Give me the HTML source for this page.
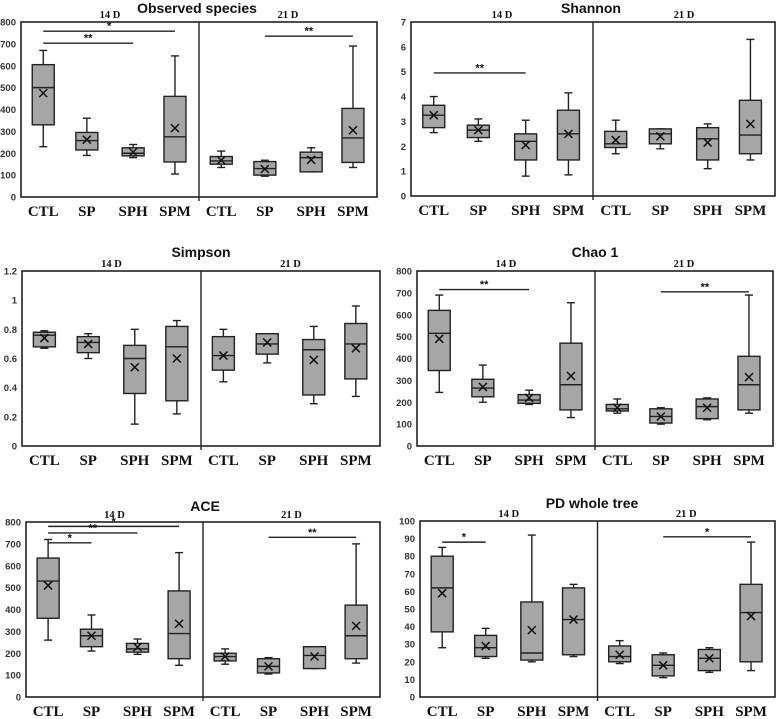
<!DOCTYPE html>
<html><head><meta charset="utf-8"><style>
body{margin:0;background:#fff}
svg{display:block}
.yt{font:bold 9.5px "Liberation Sans",sans-serif;fill:#333}
.xl{font:bold 15px "Liberation Serif",serif;fill:#111}
.tt{font:bold 14px "Liberation Sans",sans-serif;fill:#111}
.dl{font:bold 10.5px "Liberation Serif",serif;fill:#111}
.sg{font:bold 11px "Liberation Sans",sans-serif;fill:#111}
</style></head><body>
<svg id="fig" width="778" height="719" viewBox="0 0 778 719"></svg>
<script>
const groups=["CTL","SP","SPH","SPM"];
const days=["14 D","21 D"];
// each box: [min,q1,median,q3,max,mean]; 14D then 21D
const observed=[[230,330,500,605,670,475],[190,215,258,295,360,262],[180,188,200,225,240,205],[105,160,275,460,645,315],
 [135,150,165,185,210,168],[95,100,130,162,168,128],[115,115,180,205,225,170],[135,158,270,405,690,305]];
const shannon=[[2.55,2.75,3.25,3.65,4.0,3.25],[2.2,2.35,2.65,2.85,3.1,2.65],[0.8,1.45,2.2,2.5,3.05,2.05],[0.85,1.45,2.5,3.45,4.15,2.5],
 [1.7,1.95,2.1,2.6,3.05,2.25],[1.9,2.1,2.5,2.7,2.7,2.4],[1.1,1.45,2.3,2.75,2.9,2.15],[1.45,1.7,2.45,3.85,6.3,2.9]];
const simpson=[[0.67,0.68,0.76,0.78,0.79,0.74],[0.6,0.64,0.71,0.75,0.77,0.7],[0.15,0.36,0.6,0.69,0.8,0.54],[0.22,0.31,0.68,0.82,0.86,0.6],
 [0.44,0.52,0.62,0.75,0.8,0.62],[0.57,0.63,0.7,0.77,0.77,0.71],[0.29,0.35,0.66,0.73,0.82,0.59],[0.34,0.46,0.7,0.84,0.96,0.67]];
const chao=[[245,345,515,620,690,490],[200,225,265,305,370,270],[190,195,210,235,255,220],[130,165,280,470,655,320],
 [150,160,170,190,215,175],[100,105,135,170,175,135],[120,125,180,215,220,175],[150,165,280,410,690,315]];
const ace=[[260,360,530,635,720,510],[210,230,280,310,375,280],[195,205,220,245,265,228],[145,175,290,485,660,335],
 [150,165,185,200,220,185],[105,110,140,175,180,140],[130,130,190,230,230,185],[155,175,280,420,700,325]];
const pd=[[28,37,62,80,85,59],[22,23,28,35,39,29],[20,21,25,54,92,38],[23,24,44,62,64,44],
 [19,20,23,29,32,24],[11,12,18,24,25,18],[14,15,22,27,28,22],[15,20,48,64,88,46]];
// significance: [fromIndex,toIndex,value,label]
const obsSig=[[0,3,758,"*"],[0,2,703,"**"],[5,7,735,"**"]];
const shaSig=[[0,2,4.95,"**"]];
const chaoSig=[[0,2,715,"**"],[5,7,705,"**"]];
const aceSig=[[0,3,780,"*"],[0,2,750,"**"],[0,1,705,"*"],[5,7,730,"**"]];
const pdSig=[[0,1,88,"*"],[5,7,91,"*"]];
const obsTicks=[0,100,200,300,400,500,600,700,800];
const shaTicks=[0,1,2,3,4,5,6,7];
const simTicks=[0,0.2,0.4,0.6,0.8,1,1.2];
const pdTicks=[0,10,20,30,40,50,60,70,80,90,100];

const NS="http://www.w3.org/2000/svg";
const svg=document.getElementById("fig");
function mk(tag,attrs,parent,txt){const e=document.createElementNS(NS,tag);for(const k in attrs)e.setAttribute(k,attrs[k]);if(txt!==undefined)e.textContent=txt;(parent||svg).appendChild(e);return e;}

function panel(p){
  const g=mk("g",{});
  
  
  const ymax=p.ticks[p.ticks.length-1];
  const y=v=>p.b-(v/ymax)*(p.b-p.t);
  const mid=(p.l+p.r)/2;
  const hw=(mid-p.l);
  const fr=[0.125,0.37,0.63,0.865];
  const cx=i=>{const h=Math.floor(i/4);const base=h?mid:p.l;const w=h?(p.r-mid):hw;return base+fr[i%4]*w;};
  const frame=mk("rect",{x:p.l,y:p.t,width:p.r-p.l,height:p.b-p.t,fill:"none",stroke:"#222","stroke-width":1.6},g);
  
  mk("line",{x1:mid,y1:p.t,x2:mid,y2:p.b+4,stroke:"#222","stroke-width":1.4},g);
  const tt=mk("text",{x:p.tx,y:p.ty,"text-anchor":"middle",class:"tt"},g,p.title);
  
  days.forEach((d,h)=>{const base=h?mid:p.l;const w=h?(p.r-mid):hw;
    const dl=mk("text",{x:base+w/2,y:p.t-4,"text-anchor":"middle",class:"dl"},g,d);
    });
  p.ticks.forEach(t=>{const e=mk("text",{x:p.l-5,y:y(t)+3.5,"text-anchor":"end",class:"yt"},g,String(t));
    });
  p.data.forEach((d,i)=>{
    const x=cx(i),bw=11;
    const bg=mk("g",{},g);
    
    
    const s={stroke:"#222","stroke-width":1.4};
    mk("line",Object.assign({x1:x,y1:y(d[0]),x2:x,y2:y(d[1])},s),bg);
    mk("line",Object.assign({x1:x,y1:y(d[3]),x2:x,y2:y(d[4])},s),bg);
    mk("line",Object.assign({x1:x-4,y1:y(d[0]),x2:x+4,y2:y(d[0])},s),bg);
    mk("line",Object.assign({x1:x-4,y1:y(d[4]),x2:x+4,y2:y(d[4])},s),bg);
    mk("rect",Object.assign({x:x-bw,y:y(d[3]),width:2*bw,height:Math.max(1,y(d[1])-y(d[3])),fill:"#a6a6a6"},s),bg);
    mk("line",Object.assign({x1:x-bw,y1:y(d[2]),x2:x+bw,y2:y(d[2])},s),bg);
    const m=y(d[5]);
    mk("path",{d:`M${x-4},${m-4}L${x+4},${m+4}M${x-4},${m+4}L${x+4},${m-4}`,stroke:"#111","stroke-width":1.5,fill:"none"},bg);
    const xl=mk("text",{x:x,y:p.b+19,"text-anchor":"middle",class:"xl"},g,groups[i%4]);
    
  });
  (p.sig||[]).forEach(s=>{
    const yy=y(s[2]);
    const sl=mk("line",{x1:cx(s[0]),y1:yy,x2:cx(s[1]),y2:yy,stroke:"#222","stroke-width":1.4},g);
    
    mk("text",{x:(cx(s[0])+cx(s[1]))/2,y:yy-1.5,"text-anchor":"middle",class:"sg"},g,s[3]);
  });
}
panel({name:"observed-species",title:"Observed species",l:21,r:377,t:22,b:197,tx:197,ty:13,ticks:obsTicks,data:observed,sig:obsSig});
panel({name:"shannon",title:"Shannon",l:411,r:775,t:22,b:196,tx:591,ty:13,ticks:shaTicks,data:shannon,sig:shaSig});
panel({name:"simpson",title:"Simpson",l:22,r:380,t:271,b:446,tx:201,ty:257,ticks:simTicks,data:simpson,sig:[]});
panel({name:"chao1",title:"Chao 1",l:417,r:773,t:271,b:446,tx:595,ty:257,ticks:obsTicks,data:chao,sig:chaoSig});
panel({name:"ace",title:"ACE",l:26,r:380,t:522,b:697,tx:205,ty:511,ticks:obsTicks,data:ace,sig:aceSig});
panel({name:"pd-whole-tree",title:"PD whole tree",l:420,r:775,t:521,b:697,tx:592,ty:508,ticks:pdTicks,data:pd,sig:pdSig});
</script>
</body></html>
